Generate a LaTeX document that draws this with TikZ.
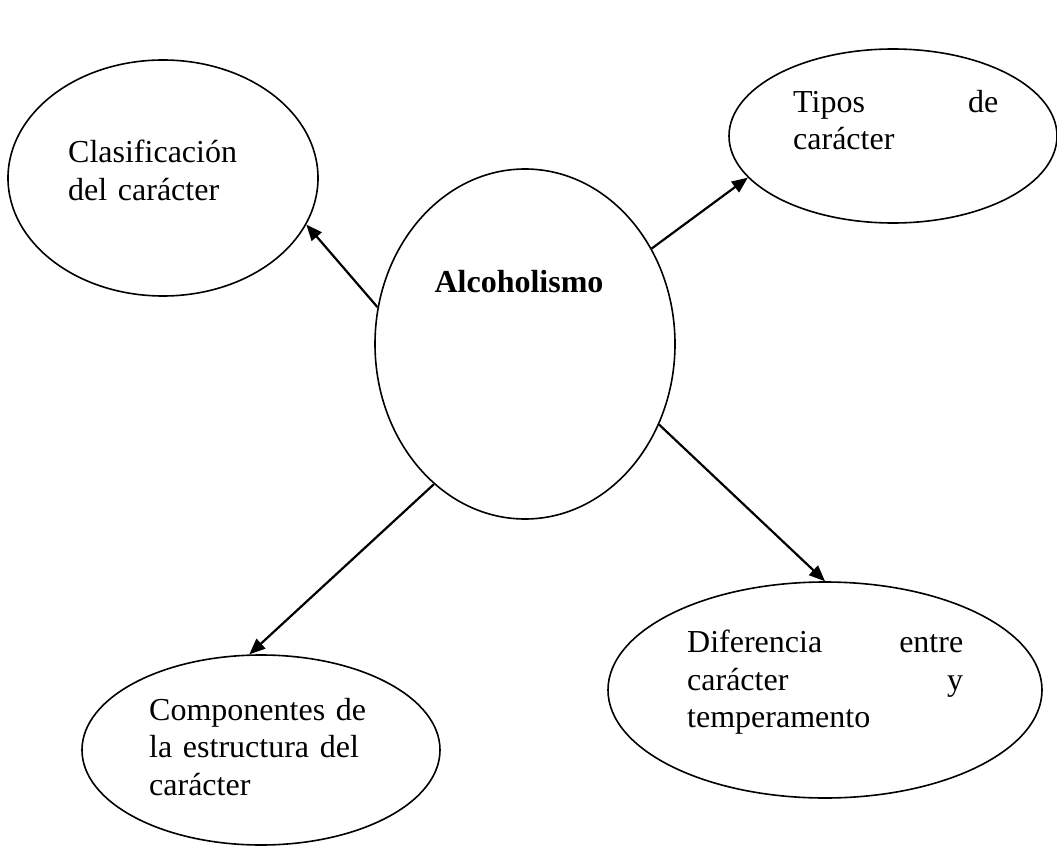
\documentclass[tikz,border=0pt]{standalone}
\usepackage{fontspec}
\setmainfont{Liberation Serif}
\usetikzlibrary{arrows.meta,shapes.geometric}
\hbadness=10000
\hyphenpenalty=10000

\begin{document}
\begin{tikzpicture}[x=1pt, y=-1pt, >={Triangle[length=16pt,width=13pt]},
    main/.style = {draw, ellipse, line width=1.6pt, inner sep=0pt},
    txt/.style = {inner sep=0pt, anchor=north west, font=\fontsize{32}{37.5}\selectfont},
    link/.style = {->, line width=2.2pt}]
    \useasboundingbox (0,0) rectangle (1057,850);

    % Nodes
    \node[main, minimum width=300pt, minimum height=350pt] (0) at (525,344) {};
    \node[main, minimum width=310pt, minimum height=236pt] (1) at (163,178) {};
    \node[main, minimum width=328pt, minimum height=174pt] (2) at (893,136) {};
    \node[main, minimum width=358pt, minimum height=190pt] (3) at (261,750) {};
    \node[main, minimum width=434pt, minimum height=216pt] (4) at (825,690) {};

    % Texts
    \node[inner sep=0pt, anchor=base, font=\fontsize{32}{37.5}\selectfont\bfseries] (t0) at (519,292) {Alcoholismo};
    \node[txt, text width=190pt, align=left] (t1) at (68,140) {Clasificación del carácter};
    \node[txt, text width=205pt, align=justify] (t2) at (793,90) {Tipos de\linebreak carácter};
    \node[txt, text width=230pt, align=left] (t3) at (149,698) {Componentes de la estructura del carácter};
    \node[txt, text width=276pt, align=justify] (t4) at (687,630) {Diferencia entre\linebreak carácter y\linebreak temperamento};

    % Directed edges
    \draw[link] (0.166) -- (1.342);
    \draw[link] (0.37) -- (2.196);
    \draw[link] (0.237) -- (3.97);
    \draw[link] (0.329) -- (4.90);
\end{tikzpicture}
\end{document}
